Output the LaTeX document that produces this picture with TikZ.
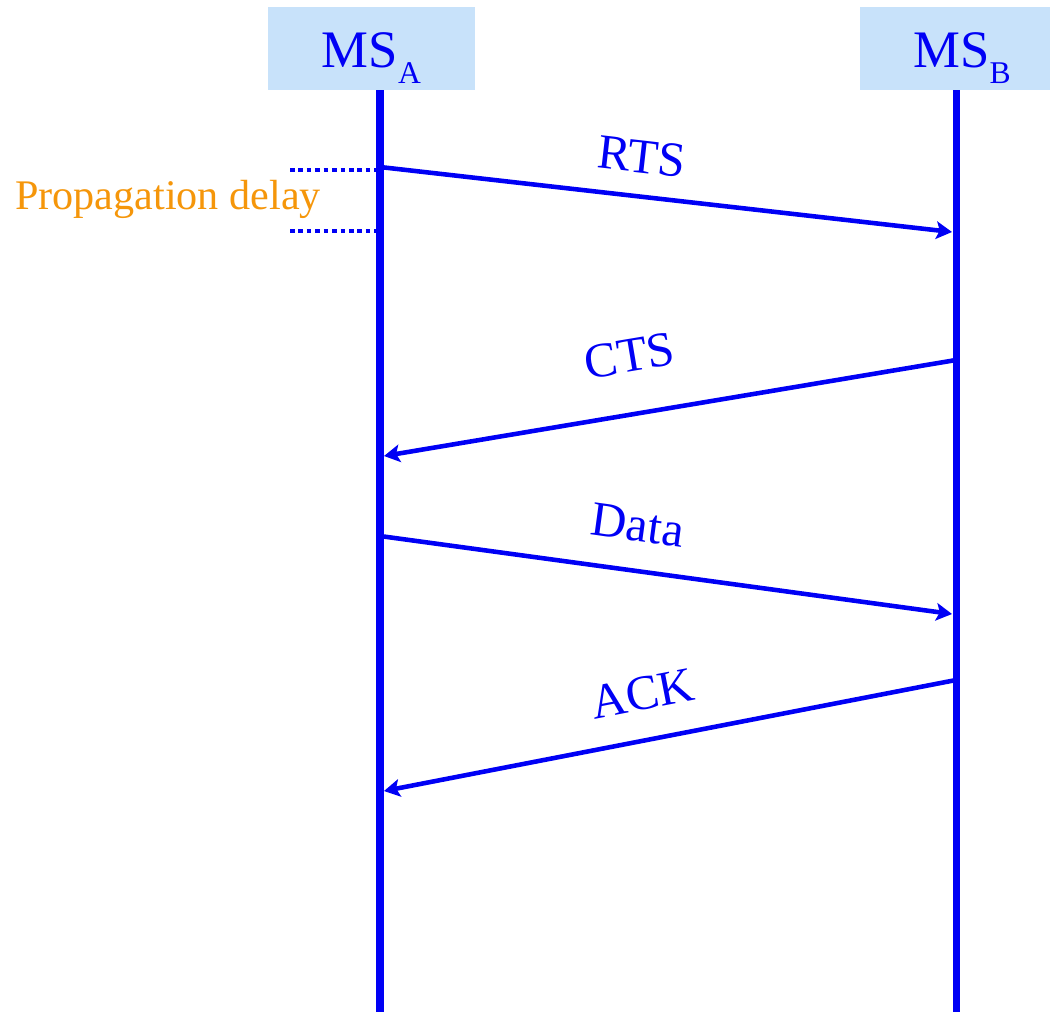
\documentclass[tikz,border=0pt]{standalone}
\usepackage{fontspec}
\setmainfont{Liberation Serif}
\usetikzlibrary{arrows.meta}

\definecolor{msgblue}{RGB}{0,0,245}
\definecolor{headfill}{RGB}{200,226,250}
\definecolor{delayorange}{RGB}{245,150,10}

% lowered station index
\newcommand{\stsub}[1]{\raisebox{-0.3em}{\fontsize{18}{18}\selectfont #1}}

\begin{document}
\begin{tikzpicture}[x=0.02cm, y=-0.02cm,
    station/.style={fill=headfill, minimum width=#1, minimum height=1.66cm, inner sep=0pt,
        text height=0.76cm, text depth=0cm, text=msgblue, font=\fontsize{30}{30}\selectfont},
    lifeline/.style={msgblue, line width=4pt},
    msg/.style={msgblue, line width=2.6pt, -{Stealth[length=9pt, width=10pt, inset=2pt]}},
    msglabel/.style={sloped, above=#1, text=msgblue, font=\fontsize{28}{28}\selectfont},
    delayline/.style={msgblue, line width=2.4pt, dash pattern=on 2.6pt off 2.2pt}]

    \useasboundingbox (0,0) rectangle (1053,1012);

    % Stations
    \node[station=4.14cm] (msA) at (371.5,48.5) {MS\stsub{A}};
    \node[station=3.8cm] (msB) at (955,48.5) {\hspace{0.28cm}MS\stsub{B}};

    % Lifelines
    \coordinate (botA) at (380,1012);
    \coordinate (botB) at (956,1012);
    \draw[lifeline] (msA.south -| botA) -- (botA);
    \draw[lifeline] (msB.south -| botB) -- (botB);

    % Message end points
    \coordinate (rtsA) at (380,167);
    \coordinate (rtsB) at (952,232);
    \coordinate (ctsB) at (956,360);
    \coordinate (ctsA) at (384,456);
    \coordinate (dataA) at (380,536);
    \coordinate (dataB) at (952,614);
    \coordinate (ackB) at (956,680);
    \coordinate (ackA) at (384,791);

    % Messages
    \draw[msg] (rtsA) -- node[msglabel=8.5pt, pos=0.45] {RTS} (rtsB);
    \draw[msg] (ctsB) -- node[msglabel=19pt, pos=0.554] {CTS} (ctsA);
    \draw[msg] (dataA) -- node[msglabel=12pt, pos=0.44] {Data} (dataB);
    \draw[msg] (ackB) -- node[msglabel=12.5pt, pos=0.533] {ACK} (ackA);

    % Propagation delay
    \coordinate (delayTop) at (290,170);
    \coordinate (delayBot) at (290,231);
    \draw[delayline] (delayTop) -- (delayTop -| botA);
    \draw[delayline] (delayBot) -- (delayBot -| botA);
    \node[text=delayorange, font=\fontsize{24}{24}\selectfont] (delay) at (168,199) {Propagation delay};

\end{tikzpicture}
\end{document}
